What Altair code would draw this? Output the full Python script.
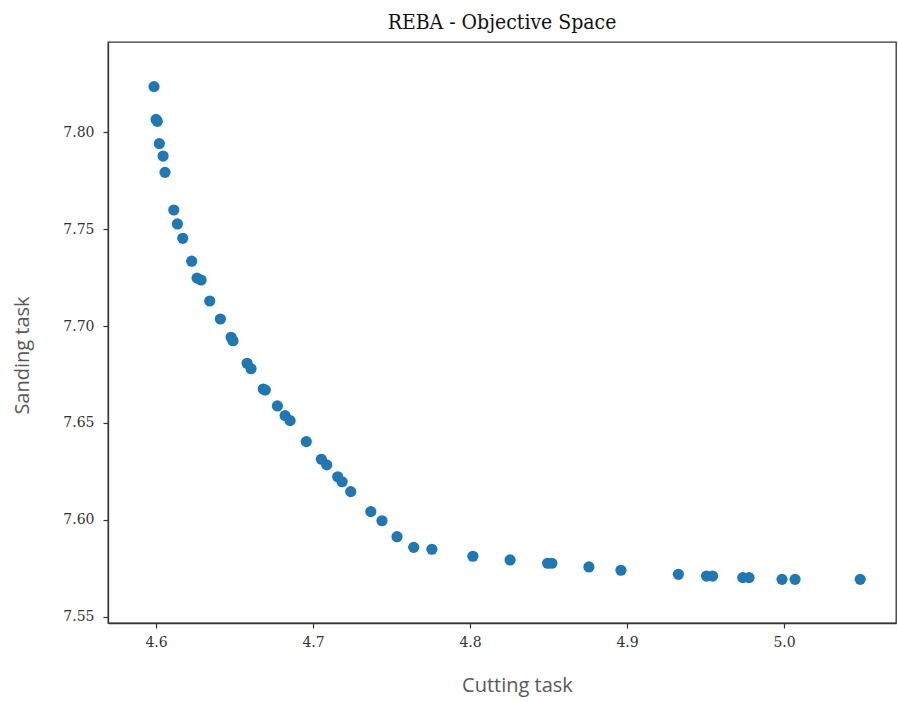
import altair as alt
import pandas as pd

cutting = [4.5987, 4.6000, 4.6008, 4.6021, 4.6045, 4.6057, 4.6113, 4.6136, 4.6170, 4.6227,
           4.6261, 4.6287, 4.6342, 4.6410, 4.6478, 4.6490, 4.6580, 4.6605, 4.6683, 4.6696,
           4.6773, 4.6822, 4.6854, 4.6957, 4.7053, 4.7087, 4.7157, 4.7185, 4.7240, 4.7368,
           4.7439, 4.7535, 4.7641, 4.7757, 4.8018, 4.8255, 4.8494, 4.8521, 4.8757, 4.8961,
           4.9327, 4.9506, 4.9545, 4.9737, 4.9777, 4.9987, 5.0070, 5.0485]
sanding = [7.8234, 7.8065, 7.8055, 7.7940, 7.7876, 7.7792, 7.7598, 7.7526, 7.7452, 7.7334,
           7.7247, 7.7237, 7.7129, 7.7036, 7.6942, 7.6924, 7.6808, 7.6780, 7.6675, 7.6670,
           7.6588, 7.6538, 7.6512, 7.6404, 7.6313, 7.6284, 7.6223, 7.6197, 7.6146, 7.6043,
           7.5996, 7.5914, 7.5859, 7.5849, 7.5813, 7.5794, 7.5777, 7.5777, 7.5758, 7.5741,
           7.5720, 7.5711, 7.5711, 7.5703, 7.5703, 7.5694, 7.5694, 7.5694]
x_ticks = [4.6, 4.7, 4.8, 4.9, 5.0]
y_ticks = [7.55, 7.60, 7.65, 7.70, 7.75, 7.80]

df = pd.DataFrame({"Cutting task": cutting, "Sanding task": sanding})

chart = alt.Chart(df).mark_circle(size=125, opacity=1, color="#1f77b4").encode(
    x=alt.X("Cutting task:Q",
            scale=alt.Scale(domain=[4.5694, 5.0713], nice=False, zero=False),
            axis=alt.Axis(values=x_ticks, format=".1f", grid=False, labelPadding=7,
                          titleX=409, titleY=62, titleBaseline="middle")),
    y=alt.Y("Sanding task:Q",
            scale=alt.Scale(domain=[7.5469, 7.8464], nice=False, zero=False),
            axis=alt.Axis(values=y_ticks, format=".2f", grid=False, labelPadding=9,
                          titleX=-86, titleY=313, titleBaseline="middle")),
).properties(
    width=788, height=581,
    title=alt.TitleParams("REBA - Objective Space", font="DejaVu Serif Condensed, DejaVu Serif",
                          fontSize=21, fontWeight="normal", color="#111", offset=9),
    autosize=alt.AutoSizeParams(type="none"),
    padding={"left": 108, "top": 42, "right": 2, "bottom": 79},
).configure_view(
    stroke="#333", strokeWidth=1.3
).configure_axis(
    domainColor="#333", domainWidth=1.3, tickColor="#333", tickSize=5, tickWidth=1.2,
    labelFont="DejaVu Serif", labelFontSize=14, labelColor="#333",
    titleFont="Open Sans", titleFontSize=20, titleFontWeight="normal", titleColor="#595959"
)

chart.save("out.html", embed_options={"renderer": "svg", "actions": False})
